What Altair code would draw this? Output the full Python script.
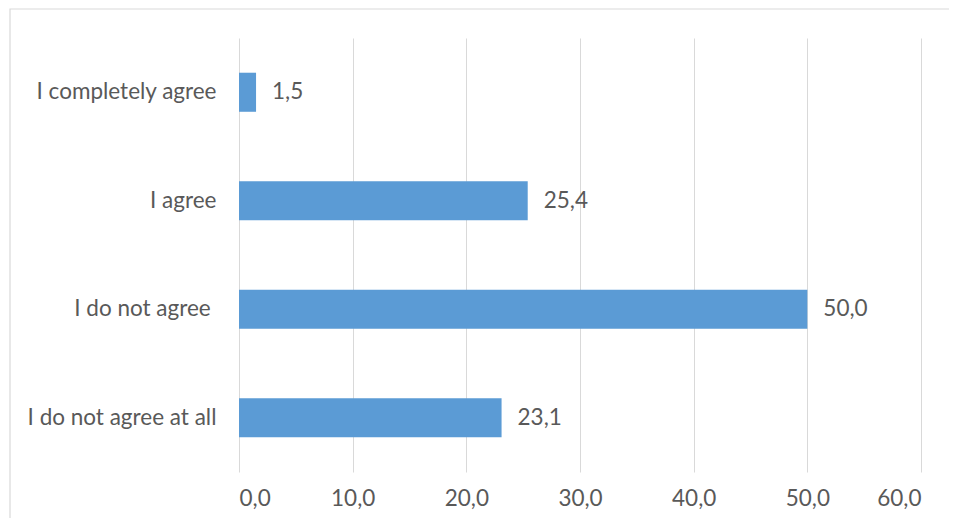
import altair as alt
import pandas as pd

categories = ["I completely agree", "I agree", "I do not agree \u200b", "I do not agree at all"]
values = [1.5, 25.4, 50.0, 23.1]
x_ticks = [0, 10, 20, 30, 40, 50, 60]

df = pd.DataFrame({"cat": categories, "v": values})

FONT = "Lato"
FS = 22.5
GREY = "#595959"
W, H = 682, 434

y_enc = alt.Y("cat:N", sort=categories,
              scale=alt.Scale(paddingInner=0.64, paddingOuter=0.32),
              axis=alt.Axis(title=None, domain=False, ticks=False, labelPadding=23,
                            labelLimit=300,
                            labelFont=FONT, labelFontSize=FS, labelColor=GREY))
x_enc = alt.X("v:Q", scale=alt.Scale(domain=[0, 60]),
              axis=alt.Axis(title=None, values=x_ticks, domain=False, ticks=False,
                            grid=True, gridColor="#d9d9d9", gridWidth=1,
                            labelPadding=15, labelFont=FONT, labelFontSize=FS,
                            labelColor=GREY,
                            labelExpr="replace(format(datum.value,'.1f'),'.',',')"))

frame = alt.Chart(pd.DataFrame({"a": [0]})).mark_rect(
    fill=None, stroke="#d9d9d9", strokeWidth=1.2
).encode(x=alt.value(-229), x2=alt.value(800), y=alt.value(-29), y2=alt.value(700))

bars = alt.Chart(df).mark_bar(color="#5b9bd5").encode(x=x_enc, y=y_enc)

labels = alt.Chart(df).transform_calculate(
    lab="replace(format(datum.v,'.1f'),'.',',')"
).mark_text(align="left", baseline="middle", dx=16, font=FONT, fontSize=FS,
            color=GREY).encode(x="v:Q", y=alt.Y("cat:N", sort=categories), text="lab:N")

chart = alt.layer(frame, bars, labels).properties(
    width=W, height=H,
    autosize=alt.AutoSizeParams(type="none"),
    padding={"left": 231, "top": 30, "right": 28, "bottom": 46},
).configure_view(stroke=None)

chart.save("out.html", embed_options={"renderer": "svg", "actions": False})
